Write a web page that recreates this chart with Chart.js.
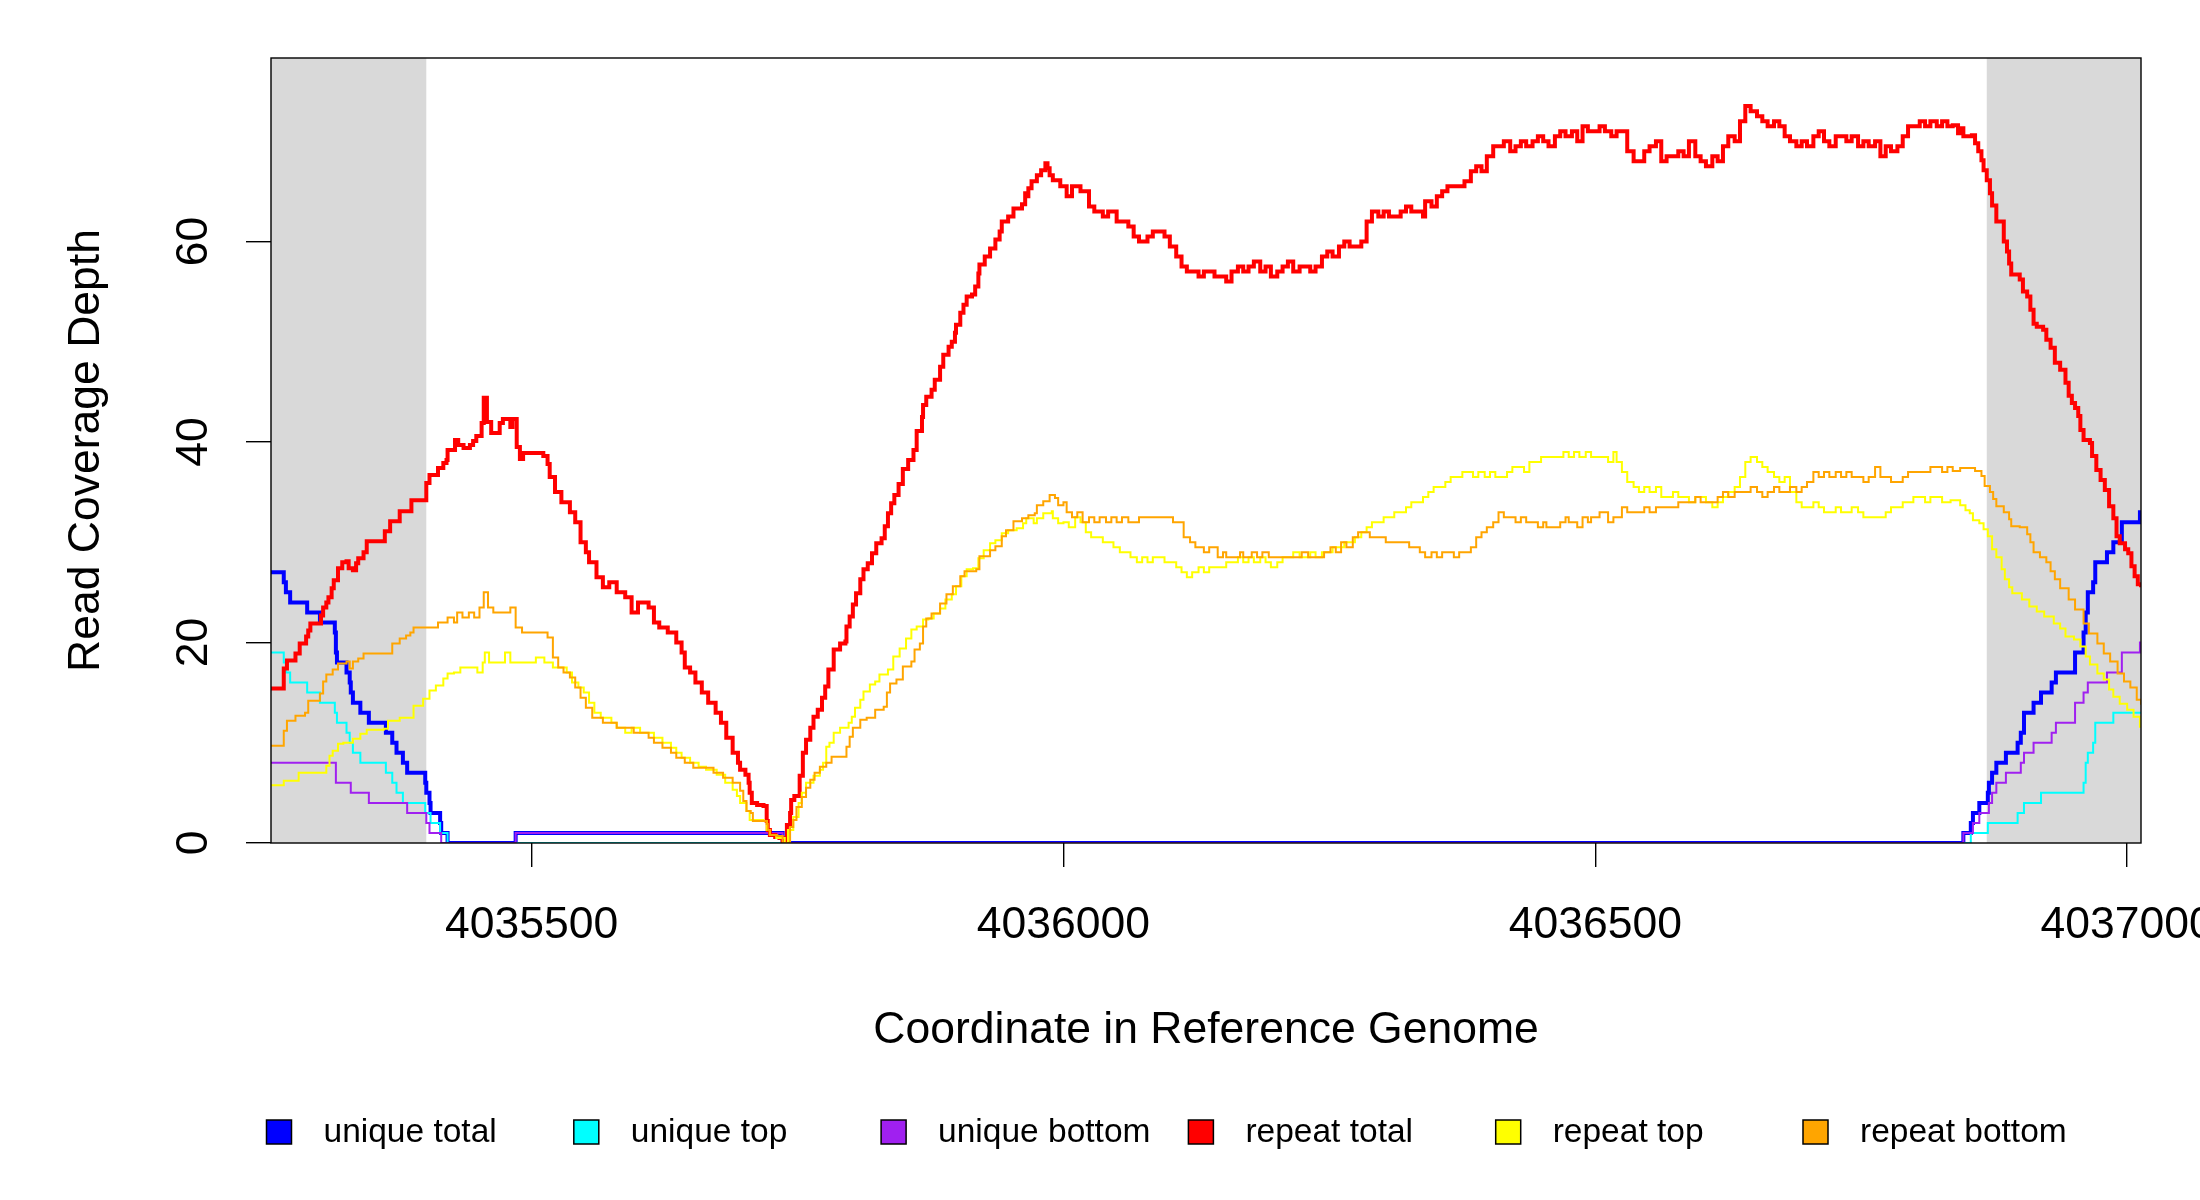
<!DOCTYPE html>
<html>
<head>
<meta charset="utf-8">
<title>Read Coverage Depth</title>
<script src="https://cdn.jsdelivr.net/npm/chart.js@4.4.1/dist/chart.umd.min.js"></script>
<style>
  html, body { margin: 0; padding: 0; background: #fff; }
  canvas { display: block; }
</style>
</head>
<body>
<canvas id="coverage" width="2200" height="1200"></canvas>
<script>
// genome window shown and the two grey flank regions
const xMin = 4035255;
const xMax = 4037013;
const yMax = 78.3;
const xTickValues = [4035500, 4036000, 4036500, 4037000];
const yTickValues = [0, 20, 40, 60];
const shadeRanges = [[4035255, 4035401], [4036868, 4037013]];

const seriesLabels = ["unique total", "unique top", "unique bottom", "repeat total", "repeat top", "repeat bottom"];
const seriesColors = ["#0000ff", "#00ffff", "#a020f0", "#ff0000", "#ffff00", "#ffa500"];

// [coordinate, depth] pairs, step after each point
const uniqueTotal = [
  [4035255,27],[4035267,26],[4035269,25],[4035273,24],[4035289,23],[4035301,22],[4035315,21],[4035316,19],
  [4035317,18],[4035326,17],[4035329,16],[4035330,15],[4035332,14],[4035339,13],[4035347,12],[4035363,11],
  [4035369,10],[4035373,9],[4035379,8],[4035383,7],[4035400,6],[4035401,5],[4035404,4],[4035405,3],
  [4035414,2],[4035415,1],[4035421,0],[4035485,1],[4035736,0],[4036846,1],[4036853,2],[4036855,3],
  [4036861,4],[4036869,5],[4036870,6],[4036873,7],[4036877,8],[4036886,9],[4036897,10],[4036900,11],
  [4036903,13],[4036912,14],[4036919,15],[4036929,16],[4036933,17],[4036951,19],[4036959,21],[4036961,23],
  [4036963,25],[4036968,26],[4036970,28],[4036981,29],[4036987,30],[4036995,32],[4037012,33],[4037013,33]
];

const uniqueTop = [
  [4035255,19],[4035267,18],[4035269,17],[4035273,16],[4035289,15],[4035301,14],[4035315,13],[4035317,12],
  [4035326,11],[4035329,10],[4035332,9],[4035339,8],[4035363,7],[4035369,6],[4035373,5],[4035379,4],
  [4035400,3],[4035405,2],[4035414,1],[4035421,0],[4036853,1],[4036869,2],[4036897,3],[4036903,4],
  [4036919,5],[4036959,6],[4036961,8],[4036963,9],[4036968,10],[4036970,12],[4036987,13],[4037013,13]
];

const uniqueBottom = [
  [4035255,8],[4035316,6],[4035330,5],[4035347,4],[4035383,3],[4035401,2],[4035404,1],[4035415,0],
  [4035485,1],[4035736,0],[4036846,1],[4036855,2],[4036861,3],[4036870,4],[4036873,5],[4036877,6],
  [4036886,7],[4036900,8],[4036903,9],[4036912,10],[4036929,11],[4036933,12],[4036951,14],[4036959,15],
  [4036963,16],[4036981,17],[4036995,19],[4037012,20],[4037013,20]
];

const repeatTotal = [
  [4035255,15.4],[4035267,17.4],[4035270,18.2],[4035278,18.9],[4035282,19.9],[4035288,20.6],[4035290,21.2],[4035292,21.9],
  [4035302,22.7],[4035304,23.5],[4035307,24],[4035309,24.5],[4035312,25.4],[4035314,26.2],[4035318,27.4],[4035322,28],
  [4035326,28.1],[4035328,27.4],[4035332,27.2],[4035335,27.9],[4035337,28.4],[4035342,29],[4035345,30.1],[4035362,31.1],
  [4035367,32.1],[4035376,33.1],[4035387,34.2],[4035401,35.9],[4035404,36.7],[4035412,37.4],[4035417,37.9],[4035420,38.2],
  [4035421,39.2],[4035428,40.2],[4035431,39.7],[4035436,39.4],[4035442,39.7],[4035445,40.1],[4035448,40.6],[4035453,41.9],
  [4035455,44.4],[4035458,42],[4035462,40.9],[4035470,41.9],[4035473,42.3],[4035480,41.5],[4035482,42.3],[4035486,39.5],
  [4035489,38.3],[4035492,38.9],[4035511,38.6],[4035515,37.8],[4035517,36.5],[4035522,35],[4035528,34],[4035536,33],
  [4035541,32],[4035546,30],[4035551,29],[4035554,28],[4035561,26.5],[4035567,25.5],[4035573,26],[4035580,25],
  [4035588,24.5],[4035594,23],[4035600,24],[4035610,23.5],[4035615,22],[4035620,21.5],[4035628,21],[4035636,20],
  [4035641,19],[4035644,17.5],[4035649,17],[4035654,16],[4035660,15],[4035666,14],[4035673,13],[4035678,12],
  [4035683,10.5],[4035689,9],[4035694,8],[4035696,7.3],[4035701,6.8],[4035704,6],[4035705,5],[4035707,4],
  [4035712,3.8],[4035718,3.7],[4035721,2.2],[4035722,1.3],[4035724,0.8],[4035729,0.6],[4035733,0.5],[4035736,0],
  [4035740,1.8],[4035743,3],[4035744,4.3],[4035747,4.7],[4035752,6.7],[4035755,9],[4035758,10.3],[4035762,11.5],
  [4035765,12.6],[4035769,13.3],[4035773,14.5],[4035776,15.6],[4035779,17.3],[4035784,19.3],[4035790,19.9],[4035795,20.1],
  [4035796,21.6],[4035799,22.6],[4035802,23.8],[4035805,24.9],[4035809,26.3],[4035812,27.3],[4035816,27.9],[4035820,28.9],
  [4035824,29.9],[4035829,30.4],[4035832,31.6],[4035835,32.9],[4035838,33.9],[4035841,34.7],[4035845,35.8],[4035849,37.3],
  [4035854,38.2],[4035859,39.2],[4035862,41.1],[4035867,42.5],[4035868,43.7],[4035871,44.5],[4035876,45.2],[4035879,46.2],
  [4035884,47.5],[4035887,48.7],[4035892,49.5],[4035895,50],[4035898,50.9],[4035899,51.7],[4035903,52.9],[4035906,53.7],
  [4035909,54.5],[4035914,54.7],[4035917,55.5],[4035920,56.8],[4035921,57.7],[4035926,58.5],[4035931,59.3],[4035936,60.2],
  [4035940,61],[4035942,62],[4035948,62.5],[4035953,63.3],[4035961,63.7],[4035964,64.8],[4035966,64.5],[4035967,65.3],
  [4035970,66],[4035975,66.6],[4035979,67.1],[4035983,67.8],[4035985,67.3],[4035987,66.6],[4035990,66.1],[4035997,65.5],
  [4036003,64.5],[4036008,65.5],[4036016,65],[4036024,63.5],[4036029,63],[4036037,62.5],[4036042,63],[4036050,62],
  [4036061,61.5],[4036066,60.5],[4036071,60],[4036079,60.5],[4036084,61],[4036095,60.5],[4036100,59.5],[4036106,58.5],
  [4036111,57.5],[4036116,57],[4036127,56.5],[4036132,57],[4036142,56.5],[4036153,56],[4036158,57],[4036164,57.5],
  [4036169,57],[4036174,57.5],[4036179,58],[4036185,57],[4036190,57.5],[4036195,56.5],[4036201,57],[4036206,57.5],
  [4036211,58],[4036216,57],[4036222,57.5],[4036232,57],[4036237,57.5],[4036243,58.5],[4036248,59],[4036253,58.5],
  [4036259,59.5],[4036264,60],[4036269,59.5],[4036280,60],[4036285,62],[4036290,63],[4036296,62.5],[4036301,63],
  [4036306,62.5],[4036317,63],[4036322,63.5],[4036327,63],[4036338,62.5],[4036340,64],[4036346,63.5],[4036351,64.5],
  [4036356,65],[4036361,65.5],[4036377,66],[4036383,67],[4036388,67.5],[4036393,67],[4036398,68.5],[4036404,69.5],
  [4036414,70],[4036420,69],[4036425,69.5],[4036430,70],[4036435,69.5],[4036441,70],[4036446,70.5],[4036451,70],
  [4036456,69.5],[4036462,70.5],[4036467,71],[4036472,70.5],[4036478,71],[4036483,70],[4036488,71.5],[4036493,71],
  [4036504,71.5],[4036509,71],[4036515,70.5],[4036520,71],[4036530,69],[4036536,68],[4036546,69],[4036551,69.5],
  [4036557,70],[4036562,68],[4036567,68.5],[4036578,69],[4036583,68.5],[4036588,70],[4036594,68.5],[4036599,68],
  [4036604,67.5],[4036610,68.5],[4036615,68],[4036620,69.5],[4036625,70.5],[4036631,70],[4036636,72],[4036641,73.5],
  [4036646,73],[4036652,72.5],[4036657,72],[4036662,71.5],[4036668,72],[4036673,71.5],[4036678,70.5],[4036683,70],
  [4036689,69.5],[4036694,70],[4036699,69.5],[4036705,70.5],[4036710,71],[4036715,70],[4036720,69.5],[4036726,70.5],
  [4036736,70],[4036741,70.5],[4036747,69.5],[4036752,70],[4036757,69.5],[4036763,70],[4036768,68.5],[4036773,69.5],
  [4036778,69],[4036784,69.5],[4036789,70.5],[4036794,71.5],[4036805,72],[4036810,71.5],[4036815,72],[4036821,71.5],
  [4036826,72],[4036831,71.5],[4036836,71.6],[4036841,70.8],[4036843,71.3],[4036846,70.5],[4036854,70.6],[4036857,69.8],
  [4036860,69],[4036863,68.1],[4036865,67.1],[4036868,66.1],[4036871,64.8],[4036873,63.6],[4036877,62],[4036884,60],
  [4036887,59],[4036889,57.8],[4036891,56.7],[4036899,56.2],[4036902,55],[4036906,54.5],[4036909,53.2],[4036912,51.8],
  [4036915,51.5],[4036921,51.2],[4036924,50.2],[4036928,49.4],[4036932,47.9],[4036937,47.2],[4036942,45.9],[4036945,44.6],
  [4036948,43.9],[4036951,43.4],[4036954,42.6],[4036956,41.2],[4036959,40.2],[4036965,39.9],[4036967,38.6],[4036971,37.2],
  [4036975,36.2],[4036979,35.2],[4036983,33.6],[4036987,32.4],[4036990,30.6],[4036993,29.9],[4036998,29.3],[4037001,28.9],
  [4037004,27.6],[4037007,26.6],[4037010,25.8],[4037013,25.5]
];

const repeatTop = [
  [4035255,5.75],[4035267,6.2],[4035281,7],[4035307,7.7],[4035310,8.7],[4035313,9.2],[4035318,9.9],[4035323,10],
  [4035332,10.4],[4035339,10.9],[4035345,11.3],[4035361,11.4],[4035365,12.2],[4035376,12.5],[4035389,13.7],[4035398,14.4],
  [4035404,15.2],[4035410,15.7],[4035417,16.4],[4035421,16.9],[4035427,17],[4035433,17.5],[4035441,17.5],[4035449,17],
  [4035454,18],[4035456,19],[4035460,18],[4035467,18],[4035475,19],[4035480,18],[4035488,18],[4035496,18],
  [4035504,18.5],[4035512,18],[4035520,17.5],[4035528,17.5],[4035533,17],[4035538,16],[4035544,15.5],[4035549,15],
  [4035554,14],[4035559,13],[4035565,12.5],[4035575,12],[4035580,11.5],[4035588,11],[4035594,11.5],[4035602,11],
  [4035615,10.5],[4035623,10],[4035631,9.5],[4035636,9],[4035641,8.5],[4035649,8],[4035657,7.6],[4035664,7.3],
  [4035674,6.8],[4035682,6],[4035689,5.3],[4035693,4.7],[4035696,4],[4035702,3.2],[4035705,2.3],[4035718,2.2],
  [4035721,1.3],[4035724,0.8],[4035730,0.5],[4035738,0],[4035741,1.3],[4035746,2.6],[4035751,4],[4035754,5],
  [4035758,6],[4035765,6.7],[4035771,7.3],[4035774,8],[4035777,9.6],[4035780,10],[4035784,11],[4035790,11.5],
  [4035798,12],[4035801,12.6],[4035804,13.5],[4035809,14.3],[4035812,15.1],[4035818,15.8],[4035823,16.1],[4035827,16.8],
  [4035835,17.3],[4035840,18.6],[4035846,19.4],[4035852,20.4],[4035857,21.3],[4035862,21.6],[4035868,22.3],[4035873,22.4],
  [4035878,22.9],[4035884,23.4],[4035889,24.3],[4035895,24.8],[4035899,25.6],[4035904,26.6],[4035909,27.3],[4035915,27.4],
  [4035920,28.4],[4035925,29.2],[4035931,29.9],[4035936,30.2],[4035942,30.9],[4035948,31.2],[4035956,31.4],[4035962,31.9],
  [4035965,32.4],[4035972,31.9],[4035975,32.4],[4035981,32.9],[4035989,33.1],[4035990,32.4],[4035995,31.9],[4036000,32],
  [4036005,31.5],[4036011,32.5],[4036016,32],[4036021,31],[4036026,30.5],[4036037,30],[4036047,29.5],[4036053,29],
  [4036063,28.5],[4036069,28],[4036074,28.5],[4036079,28],[4036084,28.5],[4036095,28],[4036106,27.5],[4036111,27],
  [4036116,26.5],[4036121,27],[4036127,27.5],[4036132,27],[4036137,27.5],[4036153,28],[4036164,28.5],[4036169,28],
  [4036174,28.5],[4036179,28],[4036185,28.5],[4036190,28],[4036195,27.5],[4036201,28],[4036206,28.5],[4036216,29],
  [4036222,28.5],[4036232,29],[4036237,28.5],[4036243,29],[4036253,29.5],[4036264,30],[4036274,30.5],[4036280,31],
  [4036285,31.5],[4036290,32],[4036301,32.5],[4036311,33],[4036322,33.5],[4036327,34],[4036338,34.5],[4036343,35],
  [4036348,35.5],[4036359,36],[4036364,36.5],[4036375,37],[4036385,36.5],[4036390,37],[4036396,36.5],[4036401,37],
  [4036406,36.5],[4036417,37],[4036422,37.5],[4036433,37],[4036438,38],[4036449,38.5],[4036470,39],[4036475,38.5],
  [4036480,39],[4036485,38.5],[4036491,39],[4036496,38.5],[4036512,38],[4036517,39],[4036520,38],[4036525,37],
  [4036530,36],[4036536,35.5],[4036541,35],[4036546,35.5],[4036551,35],[4036557,35.5],[4036562,34.5],[4036573,35],
  [4036578,34.5],[4036588,34],[4036594,34.5],[4036604,34],[4036610,33.5],[4036615,34],[4036620,34.5],[4036625,35],
  [4036631,35.5],[4036636,36.5],[4036641,38],[4036646,38.5],[4036652,38],[4036657,37.5],[4036662,37],[4036668,36.5],
  [4036673,36],[4036678,36.5],[4036683,35],[4036689,34],[4036694,33.5],[4036705,34],[4036710,33.5],[4036715,33],
  [4036726,33.5],[4036731,33],[4036741,33.5],[4036747,33],[4036752,32.5],[4036773,33],[4036778,33.5],[4036789,34],
  [4036799,34.5],[4036810,34],[4036815,34.5],[4036826,34],[4036834,34.2],[4036843,33.7],[4036848,33.2],[4036852,32.9],
  [4036855,32.2],[4036861,31.9],[4036865,31.3],[4036869,30.6],[4036873,29.3],[4036877,28.5],[4036882,27.3],[4036885,26.3],
  [4036889,25.5],[4036892,24.9],[4036901,24.3],[4036908,23.6],[4036915,23.1],[4036922,22.6],[4036931,21.9],[4036937,21.4],
  [4036942,20.6],[4036950,20.3],[4036956,19.6],[4036961,18.6],[4036965,17.8],[4036972,16.9],[4036978,16.3],[4036983,15.3],
  [4036987,14.6],[4036993,13.9],[4037000,13.3],[4037006,12.6],[4037012,11.6],[4037013,11.6]
];

const repeatBottom = [
  [4035255,9.7],[4035267,11.2],[4035270,12.2],[4035278,12.7],[4035287,13],[4035290,14.2],[4035301,14.9],[4035304,16.1],
  [4035307,16.8],[4035313,17.3],[4035318,17.9],[4035326,18.1],[4035329,17.4],[4035332,18.1],[4035337,18.4],[4035342,18.9],
  [4035369,19.9],[4035376,20.4],[4035382,20.7],[4035386,21],[4035389,21.5],[4035412,22],[4035421,22.5],[4035427,22],
  [4035430,23],[4035435,22.5],[4035441,23],[4035446,22.5],[4035451,23.5],[4035455,25],[4035459,23.5],[4035464,23],
  [4035480,23.5],[4035485,21.5],[4035491,21],[4035509,21],[4035515,20.5],[4035520,18.5],[4035525,17.5],[4035530,17],
  [4035536,16.5],[4035541,15.5],[4035546,14.5],[4035551,13.5],[4035557,12.5],[4035567,12],[4035580,11.5],[4035596,11],
  [4035610,10.5],[4035615,10],[4035623,9.5],[4035631,9],[4035636,8.5],[4035644,8],[4035652,7.5],[4035671,7],
  [4035680,6.5],[4035689,6],[4035696,5.2],[4035699,4.2],[4035702,3.2],[4035706,3],[4035708,2.2],[4035721,1.9],
  [4035722,1.3],[4035724,0.8],[4035731,0.7],[4035736,0],[4035743,1.6],[4035746,2.3],[4035749,3.6],[4035754,4.6],
  [4035758,5.5],[4035762,6.3],[4035766,7],[4035771,7.6],[4035777,8],[4035782,8.6],[4035796,9.6],[4035799,10.6],
  [4035802,11.5],[4035809,12.3],[4035815,12.5],[4035823,13.3],[4035831,13.6],[4035834,15],[4035837,15.9],[4035843,16.3],
  [4035849,17.6],[4035857,18.1],[4035860,19.3],[4035865,19.9],[4035868,21.6],[4035871,22.4],[4035876,22.9],[4035884,23.9],
  [4035890,24.8],[4035896,25.6],[4035903,26.6],[4035907,27.1],[4035918,27.3],[4035921,28.6],[4035931,29.2],[4035936,29.6],
  [4035942,30.6],[4035946,31.2],[4035953,32.1],[4035961,32.4],[4035967,32.7],[4035973,32.9],[4035975,33.7],[4035981,34.1],
  [4035987,34.7],[4035992,34.4],[4035995,33.7],[4036000,34],[4036003,33],[4036008,32.5],[4036013,33],[4036018,32],
  [4036024,32.5],[4036029,32],[4036034,32.5],[4036040,32],[4036045,32.5],[4036050,32],[4036055,32.5],[4036061,32],
  [4036071,32.5],[4036103,32],[4036113,30.5],[4036119,30],[4036124,29.5],[4036132,29],[4036137,29.5],[4036145,28.5],
  [4036150,29],[4036153,28.5],[4036166,29],[4036169,28.5],[4036177,29],[4036182,28.5],[4036187,29],[4036193,28.5],
  [4036224,29],[4036230,28.5],[4036245,29],[4036251,29.5],[4036256,29],[4036261,30],[4036266,29.5],[4036272,30.5],
  [4036277,31],[4036288,30.5],[4036303,30],[4036325,29.5],[4036335,29],[4036340,28.5],[4036346,29],[4036351,28.5],
  [4036356,29],[4036367,28.5],[4036372,29],[4036383,29.5],[4036388,30.5],[4036393,31],[4036398,31.5],[4036404,32],
  [4036409,33],[4036414,32.5],[4036425,32],[4036430,32.5],[4036435,32],[4036446,31.5],[4036451,32],[4036454,31.5],
  [4036467,32],[4036472,32.5],[4036475,32],[4036483,31.5],[4036488,32.5],[4036493,32],[4036496,32.5],[4036504,33],
  [4036512,32],[4036517,32.5],[4036525,33.5],[4036530,33],[4036546,33.5],[4036551,33],[4036557,33.5],[4036578,34],
  [4036594,34.5],[4036599,34],[4036615,34.5],[4036620,35],[4036625,34.5],[4036631,35],[4036646,35.5],[4036652,35],
  [4036657,34.5],[4036662,35],[4036668,35.5],[4036673,35],[4036683,35.5],[4036689,35],[4036694,35.5],[4036699,36],
  [4036705,37],[4036710,36.5],[4036715,37],[4036720,36.5],[4036726,37],[4036731,36.5],[4036736,37],[4036741,36.5],
  [4036752,36],[4036757,36.5],[4036763,37.5],[4036768,36.5],[4036778,36],[4036789,36.5],[4036794,37],[4036815,37.5],
  [4036826,37],[4036831,37.5],[4036836,37.1],[4036843,37.4],[4036857,37.1],[4036863,36.6],[4036866,35.6],[4036871,35],
  [4036874,34.3],[4036877,33.6],[4036884,33],[4036889,32.3],[4036891,31.6],[4036899,31.5],[4036906,30.8],[4036909,30],
  [4036912,29],[4036918,28.5],[4036924,28],[4036928,27.1],[4036932,26.3],[4036937,25.4],[4036945,24.3],[4036951,23.3],
  [4036959,21.9],[4036964,20.9],[4036972,19.9],[4036978,18.9],[4036984,18.1],[4036991,16.9],[4036997,16.1],[4037003,15.5],
  [4037009,14.3],[4037013,13.8]
];

const seriesData = [uniqueTotal, uniqueTop, uniqueBottom, repeatTotal, repeatTop, repeatBottom];
const seriesWidths = [4, 2, 2, 4, 2, 2];

const fontFamily = "'Liberation Sans', Arial, Helvetica, sans-serif";

// grey flanks behind the lines
const flankShading = {
  id: "flankShading",
  beforeDatasetsDraw(chart) {
    const { ctx, chartArea, scales } = chart;
    ctx.save();
    ctx.fillStyle = "#d9d9d9";
    shadeRanges.forEach(([from, to]) => {
      const x1 = scales.x.getPixelForValue(from);
      const x2 = scales.x.getPixelForValue(to);
      ctx.fillRect(x1, chartArea.top, x2 - x1, chartArea.bottom - chartArea.top);
    });
    ctx.restore();
  }
};

// box round the plot region
const plotBox = {
  id: "plotBox",
  afterDatasetsDraw(chart) {
    const { ctx, chartArea } = chart;
    ctx.save();
    ctx.strokeStyle = "#000";
    ctx.lineWidth = 1.4;
    ctx.strokeRect(chartArea.left, chartArea.top, chartArea.right - chartArea.left, chartArea.bottom - chartArea.top);
    ctx.restore();
  }
};

// one row of equally spaced legend keys under the axis title
const rowLegend = {
  id: "rowLegend",
  afterDraw(chart) {
    const { ctx } = chart;
    const y = 1132;
    ctx.save();
    ctx.font = "33.5px " + fontFamily;
    ctx.textBaseline = "middle";
    ctx.textAlign = "left";
    chart.data.datasets.forEach((ds, i) => {
      const cx = 279 + i * 307.3;
      ctx.fillStyle = ds.borderColor;
      ctx.fillRect(cx - 12.5, y - 12, 25, 24);
      ctx.strokeStyle = "#000";
      ctx.lineWidth = 1.5;
      ctx.strokeRect(cx - 12.5, y - 12, 25, 24);
      ctx.fillStyle = "#000";
      ctx.fillText(ds.label, cx + 44.5, y + 1);
    });
    ctx.restore();
  }
};

const datasets = seriesData.map((points, i) => ({
  label: seriesLabels[i],
  data: points.map(([x, y]) => ({ x: x, y: y })),
  borderColor: seriesColors[i],
  backgroundColor: seriesColors[i],
  borderWidth: seriesWidths[i],
  pointRadius: 0,
  stepped: true,
  fill: false,
  order: seriesData.length - i
}));

new Chart(document.getElementById("coverage"), {
  type: "line",
  data: { datasets: datasets },
  plugins: [flankShading, plotBox, rowLegend],
  options: {
    responsive: false,
    animation: false,
    devicePixelRatio: 1,
    layout: { padding: { top: 58, right: 59, bottom: 143, left: 0 } },
    plugins: {
      legend: { display: false },
      tooltip: { enabled: false }
    },
    scales: {
      x: {
        type: "linear",
        position: "bottom",
        min: xMin,
        max: xMax,
        border: { display: false },
        grid: { drawOnChartArea: false, drawTicks: true, tickLength: 24, color: "#000", lineWidth: 1.4 },
        afterBuildTicks: (scale) => {
          scale.ticks = xTickValues.map((v) => ({ value: v }));
        },
        ticks: {
          autoSkip: false,
          minRotation: 0,
          maxRotation: 0,
          padding: 32,
          color: "#000",
          font: { family: fontFamily, size: 44.5 },
          callback: (v) => String(v)
        },
        title: {
          display: true,
          text: "Coordinate in Reference Genome",
          color: "#000",
          font: { family: fontFamily, size: 44.5 },
          padding: { top: 0, bottom: 0 }
        },
        afterFit: (scale) => {
          scale.height = 214;
          scale.paddingLeft = 0;
          scale.paddingRight = 0;
        }
      },
      y: {
        type: "linear",
        min: 0,
        max: yMax,
        border: { display: false },
        grid: { drawOnChartArea: false, drawTicks: true, tickLength: 25, color: "#000", lineWidth: 1.4 },
        afterBuildTicks: (scale) => {
          scale.ticks = yTickValues.map((v) => ({ value: v }));
        },
        ticks: {
          minRotation: 90,
          maxRotation: 90,
          crossAlign: "center",
          padding: 27,
          color: "#000",
          font: { family: fontFamily, size: 44.5 },
          callback: (v) => String(v)
        },
        title: {
          display: true,
          text: "Read Coverage Depth",
          color: "#000",
          font: { family: fontFamily, size: 44.5 },
          padding: { top: 60, bottom: 0 }
        },
        afterFit: (scale) => {
          scale.width = 271;
          scale.paddingTop = 0;
          scale.paddingBottom = 0;
        }
      }
    }
  }
});
</script>
</body>
</html>
